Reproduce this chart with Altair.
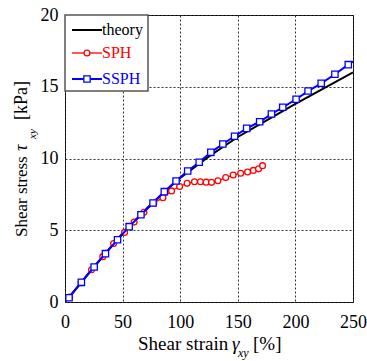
import altair as alt
import pandas as pd

# ---- data ----
theory_x = [0, 25, 50, 75, 100, 125, 150, 175, 200, 225, 250]
theory_y = [0, 2.45, 4.8, 6.85, 8.65, 10.15, 11.5, 12.65, 13.8, 14.9, 16.0]

sph_x = [4, 14, 23, 32.8, 42.2, 51.7, 60, 68.5, 77, 85, 92.5, 99.5, 106, 112.4,
         117.6, 122.5, 127.2, 132.7, 139.5, 146, 152.5, 158.5, 163.5, 168, 171.5]
sph_y = [0.35, 1.35, 2.25, 3.16, 4.08, 4.85, 5.57, 6.25, 6.88, 7.27, 7.74, 8.05,
         8.27, 8.38, 8.38, 8.35, 8.34, 8.45, 8.67, 8.85, 8.97, 9.06, 9.17, 9.28, 9.5]

ssph_x = [0, 3.5, 14.2, 25.3, 35.1, 45.6, 55.7, 65.9, 76.4, 86.2, 96.4, 106.5,
          116.5, 126.6, 137, 147.2, 157.7, 169, 179.2, 189, 200.6, 211, 222.4,
          234.3, 245.9, 252]
ssph_y = [0.1, 0.3, 1.37, 2.44, 3.37, 4.34, 5.25, 6.08, 6.9, 7.69, 8.43, 9.13,
          9.74, 10.43, 11.01, 11.55, 12.1, 12.56, 13.1, 13.57, 14.13, 14.7, 15.24,
          15.87, 16.54, 16.85]

x_ticks = [0, 50, 100, 150, 200, 250]
y_ticks = [0, 5, 10, 15, 20]

FONT = "Liberation Serif, Times New Roman, serif"
RED = "#ff0000"
BLUE = "#0000ff"

theory = pd.DataFrame({"x": theory_x, "y": theory_y})
sph = pd.DataFrame({"x": sph_x, "y": sph_y})
ssph = pd.DataFrame({"x": ssph_x, "y": ssph_y})
ssph_markers = ssph.iloc[1:-1]

xs = alt.Scale(domain=[0, 250], nice=False)
ys = alt.Scale(domain=[0, 20], nice=False)
xax = alt.Axis(values=x_ticks, title=None, labelBaseline="alphabetic",
               labelPadding=25, tickSize=0, ticks=False, domain=False,
               grid=True, labelFlush=False, labelOverlap=False)
yax = alt.Axis(values=y_ticks, title=None, labelPadding=7, tickSize=0,
               ticks=False, domain=False, grid=True, labelOverlap=False)

X = alt.X("x:Q", scale=xs, axis=xax)
Y = alt.Y("y:Q", scale=ys, axis=yax)

theory_line = alt.Chart(theory).mark_line(color="black", strokeWidth=2, clip=True).encode(x=X, y=Y)
sph_line = alt.Chart(sph).mark_line(color=RED, strokeWidth=1.3, clip=True).encode(x="x:Q", y="y:Q")
sph_pts = alt.Chart(sph).mark_point(shape="circle", size=34, color=RED, fill="white",
                                    filled=False, strokeWidth=1.3, opacity=1,
                                    fillOpacity=1).encode(x="x:Q", y="y:Q")
ssph_line = alt.Chart(ssph).mark_line(color=BLUE, strokeWidth=2, clip=True).encode(x="x:Q", y="y:Q")
ssph_pts = alt.Chart(ssph_markers).mark_point(shape="square", size=40, color=BLUE, fill="white",
                                              filled=False, strokeWidth=1.3, opacity=1,
                                              fillOpacity=1).encode(x="x:Q", y="y:Q")

one = alt.Data(values=[{}])

# ---- legend (drawn manually to get coloured labels) ----
leg_box = alt.Chart(one).mark_rect(fill="white", stroke="#555555", strokeWidth=1.5).encode(
    x=alt.value(0), x2=alt.value(83), y=alt.value(0), y2=alt.value(76))

def leg_item(yp, color, width, label, shape=None):
    layers = [alt.Chart(one).mark_rule(color=color, strokeWidth=width).encode(
        x=alt.value(7), x2=alt.value(37), y=alt.value(yp))]
    if shape:
        layers.append(alt.Chart(one).mark_point(shape=shape, size=34 if shape == "circle" else 40,
                                                color=color, fill="white", filled=False,
                                                strokeWidth=1.3, opacity=1, fillOpacity=1).encode(
            x=alt.value(22), y=alt.value(yp)))
    layers.append(alt.Chart(one).mark_text(text=label, font=FONT, fontSize=16, color=color,
                                           align="left", baseline="middle").encode(
        x=alt.value(37), y=alt.value(yp)))
    return layers

legend_layers = [leg_box]
legend_layers += leg_item(15, "black", 2, "theory")
legend_layers += leg_item(38, RED, 1.3, "SPH", "circle")
legend_layers += leg_item(64, BLUE, 2, "SSPH", "square")

# ---- axis titles with subscripts ----
def txt(text, x, y, size, style="normal", angle=0):
    kw = dict(text=text, font=FONT, fontSize=size, color="black", align="left",
              baseline="alphabetic", fontStyle=style)
    if angle:
        kw["angle"] = angle
    return alt.Chart(one).mark_text(**kw).encode(x=alt.value(x), y=alt.value(y))

titles = [
    txt("Shear strain", 73, 335, 19),
    txt("γ", 167, 335, 19, "italic"),
    txt("xy", 173, 342, 12, "italic"),
    txt("[%]", 188, 335, 19),
    txt("Shear stress", -38, 222, 17, angle=270),
    txt("τ", -38, 136, 18, "italic", angle=270),
    txt("xy", -29, 124, 11, "italic", angle=270),
    txt("[kPa]", -38, 105, 18, angle=270),
]

chart = alt.layer(
    theory_line, sph_line, sph_pts, ssph_line, ssph_pts, *legend_layers, *titles
).properties(
    width=288, height=287,
    padding={"left": 65, "top": 15, "right": 14, "bottom": 59},
    autosize=alt.AutoSizeParams(type="none"),
).configure_view(
    stroke="black", strokeWidth=1
).configure_axis(
    labelFont=FONT, labelFontSize=18, labelColor="black",
    gridColor="#333333", gridDash=[2, 2], gridWidth=1, gridOpacity=1
)

chart.save("out.html", embed_options={"renderer": "svg", "actions": False})
